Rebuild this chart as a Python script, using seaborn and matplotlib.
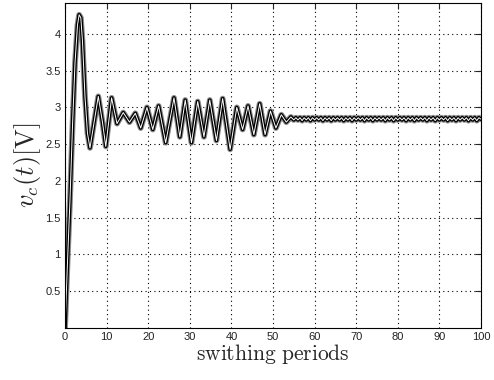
import numpy as np
import pandas as pd
import matplotlib
matplotlib.use("Agg")
import matplotlib.pyplot as plt
import seaborn as sns

# transient part: (switching period, capacitor voltage)
t_transient = [0.0, 0.6, 1.2, 1.8, 2.4, 3.0, 3.4, 3.8, 4.2, 4.8, 5.4, 6.0, 7.0,
               8.0, 9.0, 9.8, 10.5, 11.2, 12.5, 14.0, 15.5, 16.9, 18.2, 19.7,
               21.1, 22.5, 24.2, 26.2, 27.6, 28.9, 30.4, 31.9, 33.4, 34.8,
               36.4, 37.9, 39.7, 41.3, 42.7, 44.0, 45.4, 46.8, 48.1, 49.4,
               50.7, 52.0, 53.2, 54.3]
vc_transient = [0.0, 0.9, 1.75, 2.75, 3.6, 4.12, 4.26, 4.22, 3.9, 3.15, 2.65, 2.45, 2.8,
                3.15, 2.8, 2.47, 2.8, 3.13, 2.78, 2.93, 2.8, 2.92, 2.72, 3.0,
                2.7, 3.02, 2.52, 3.13, 2.6, 3.1, 2.52, 3.08, 2.6, 3.1,
                2.55, 3.12, 2.43, 3.0, 2.7, 3.02, 2.63, 3.05, 2.63, 2.95,
                2.72, 2.9, 2.8, 2.87]

# steady state ripple, sampled every half period from 55 to 100
t_steady = np.arange(55.0, 100.5, 0.5)
vc_steady = [2.83, 2.86, 2.83, 2.86, 2.82, 2.86, 2.83, 2.86, 2.82, 2.86,
             2.83, 2.86, 2.83, 2.86, 2.82, 2.86, 2.83, 2.86, 2.82, 2.86,
             2.83, 2.86, 2.83, 2.86, 2.82, 2.86, 2.83, 2.86, 2.82, 2.86,
             2.83, 2.86, 2.83, 2.86, 2.82, 2.86, 2.83, 2.86, 2.82, 2.86,
             2.83, 2.86, 2.83, 2.86, 2.82, 2.86, 2.83, 2.86, 2.82, 2.86,
             2.83, 2.86, 2.83, 2.86, 2.82, 2.86, 2.83, 2.86, 2.82, 2.86,
             2.83, 2.86, 2.83, 2.86, 2.82, 2.86, 2.83, 2.86, 2.82, 2.86,
             2.83, 2.86, 2.83, 2.86, 2.82, 2.86, 2.83, 2.86, 2.82, 2.86,
             2.83, 2.86, 2.83, 2.86, 2.82, 2.86, 2.83, 2.86, 2.82, 2.86,
             2.84]

x_ticks = [0, 10, 20, 30, 40, 50, 60, 70, 80, 90, 100]
y_ticks = [0.5, 1, 1.5, 2, 2.5, 3, 3.5, 4]

df = pd.DataFrame({
    "t": list(t_transient) + list(t_steady),
    "vc": list(vc_transient) + list(vc_steady),
})

sns.set_style("white")
plt.rcParams["font.family"] = ["Liberation Sans", "DejaVu Sans"]
plt.rcParams["mathtext.fontset"] = "cm"

fig = plt.figure(figsize=(4.94, 3.8), dpi=100)
ax = fig.add_axes([0.1316, 0.137, 0.842, 0.855])

# grey trace underneath, then black trace with white core
sns.lineplot(data=df, x="t", y="vc", ax=ax, color="#8a8a8a", lw=4.2,
             estimator=None, sort=False)
sns.lineplot(data=df, x="t", y="vc", ax=ax, color="black", lw=2.6,
             estimator=None, sort=False)
sns.lineplot(data=df, x="t", y="vc", ax=ax, color="white", lw=0.7,
             estimator=None, sort=False)

ax.set_xlim(0, 100)
ax.set_ylim(0, 4.42)
ax.set_xticks(x_ticks)
ax.set_yticks(y_ticks)
ax.set_xticklabels([str(v) for v in x_ticks])
ax.set_yticklabels([f"{v:g}" for v in y_ticks])
ax.grid(True, color="black", linestyle=(0, (1, 3)), lw=0.8)
ax.tick_params(direction="in", length=4, width=0.8, top=True, right=True,
               labelsize=8, labelcolor="#222222", pad=3)
for s in ax.spines.values():
    s.set_color("black")
    s.set_linewidth(0.8)

ax.set_xlabel(r"$\mathrm{swithing\ periods}$", fontsize=15.5, labelpad=0)
ax.set_ylabel(r"$v_c(t)[\mathrm{V}]$", fontsize=19, labelpad=2)

fig.savefig("out.png", dpi=100)
plt.close(fig)
